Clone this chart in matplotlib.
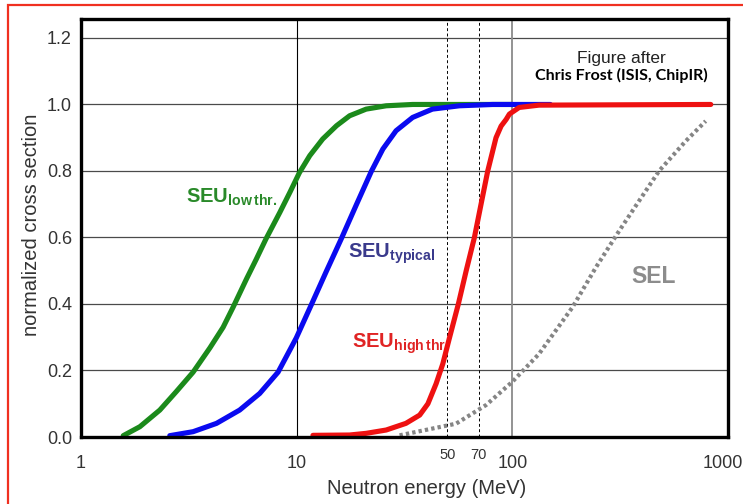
import matplotlib
matplotlib.use("Agg")
import matplotlib.pyplot as plt
import matplotlib.patheffects as pe
from matplotlib.patches import Rectangle
from matplotlib.transforms import ScaledTranslation

plt.rcParams["font.family"] = ["Liberation Sans", "DejaVu Sans"]
plt.rcParams["mathtext.fontset"] = "custom"
plt.rcParams["mathtext.rm"] = "Liberation Sans"
plt.rcParams["mathtext.bf"] = "Liberation Sans:bold"

# normalized cross sections vs neutron energy (MeV)
low_e = [1.57, 1.875, 2.32, 2.77, 3.31, 3.96, 4.56, 5.07, 5.85, 6.50, 7.21, 8.35,
         9.29, 10.3, 11.5, 13.2, 15.3, 17.6, 21.0, 26.0, 34.5, 100]
low_y = [0.004, 0.031, 0.081, 0.137, 0.195, 0.268, 0.33, 0.39, 0.475, 0.535,
         0.596, 0.675, 0.735, 0.795, 0.846, 0.896, 0.936, 0.966, 0.986, 0.996,
         1.0, 1.0]

typ_e = [2.58, 3.31, 4.25, 5.44, 6.74, 8.2, 9.96, 11.7, 13.7, 16.1, 18.9, 22.2,
         25.1, 28.9, 34.5, 42.6, 56.8, 81.0, 150]
typ_y = [0.004, 0.016, 0.041, 0.081, 0.131, 0.195, 0.298, 0.398, 0.497, 0.596,
         0.698, 0.799, 0.866, 0.921, 0.961, 0.986, 0.996, 1.0, 1.0]

high_e = [11.9, 17.6, 21.0, 26.0, 32.1, 37.2, 40.6, 44.3, 47.6, 51.1, 56.2,
          61.1, 66.7, 71.6, 76.9, 84.0, 88.7, 93.6, 96.9, 107.6, 133, 832]
high_y = [0.005, 0.006, 0.011, 0.021, 0.041, 0.066, 0.1, 0.16, 0.22, 0.298, 0.4,
          0.5, 0.6, 0.7, 0.8, 0.9, 0.935, 0.955, 0.971, 0.991, 0.998, 1.0]

sel_e = [30.0, 54.8, 75.5, 100, 133, 190, 244, 313, 387, 479, 637, 788]
sel_y = [0.005, 0.04, 0.096, 0.166, 0.25, 0.39, 0.51, 0.62, 0.71, 0.80, 0.89, 0.95]

x_ticks = [1, 10, 100, 1000]
x_labels = ["1", "10", "100", "1000"]
marked_e = [50, 70]
marked_labels = ["50", "70"]
y_ticks = [0.0, 0.2, 0.4, 0.6, 0.8, 1.0, 1.2]

fig = plt.figure(figsize=(7.43, 5.04), dpi=100)
ax = fig.add_axes([81 / 743, 1 - 437 / 504, 647 / 743, 418 / 504])
ax.set_xscale("log")
ax.set_xlim(1, 1000)
ax.set_ylim(0, 1.257)

# grid
for y in y_ticks[1:]:
    ax.axhline(y, color="#4a4a4a", lw=0.9, zorder=1)
ax.axvline(10, color="black", lw=0.8, zorder=1)
ax.axvline(100, color="#8a8a8a", lw=1.3, zorder=1)
for e in marked_e:
    ax.axvline(e, color="black", lw=0.7, ls=(0, (3, 2.5)), zorder=1)

# curves
ax.plot(sel_e, sel_y, color="#858585", lw=3.0, ls=(0, (0.8, 0.75)),
        dash_capstyle="butt", zorder=2)
ax.plot(low_e, low_y, color="#1b8a1b", lw=3.7, solid_capstyle="round",
        solid_joinstyle="round", zorder=3)
ax.plot(typ_e, typ_y, color="#0a0af0", lw=3.7, solid_capstyle="round",
        solid_joinstyle="round", zorder=4)
ax.plot(high_e, high_y, color="#ee1111", lw=3.7, solid_capstyle="round",
        solid_joinstyle="round", zorder=5)

# labels on the curves
ax.text(3.07, 0.704, r"$\mathbf{SEU}_{\mathbf{low\,thr.}}$", color="#2a8a2a",
        fontsize=14.5, ha="left", va="baseline")
ax.text(17.3, 0.538, r"$\mathbf{SEU}_{\mathbf{typical}}$", color="#3a3a8c",
        fontsize=14.5, ha="left", va="baseline")
ax.text(18.0, 0.268, r"$\mathbf{SEU}_{\mathbf{high\,thr.}}$", color="#e02424",
        fontsize=14.5, ha="left", va="baseline")
ax.text(355, 0.463, "SEL", color="#8c8c8c", fontsize=16.5, fontweight="bold",
        ha="left", va="baseline")

ax.text(322, 1.125, "Figure after", color="#222222", fontsize=12.5,
        ha="center", va="baseline")
ax.text(322, 1.074, "Chris Frost (ISIS, ChipIR)", color="black", fontsize=11.5,
        fontweight="bold", family=["Lato", "DejaVu Sans"],
        ha="center", va="baseline")

# ticks
ax.set_xticks(x_ticks, x_labels)
ax.set_xticks(marked_e, marked_labels, minor=True)
ax.set_yticks(y_ticks, [f"{v:.1f}" for v in y_ticks])
ax.tick_params(which="major", axis="x", length=0, pad=13, labelsize=13,
               labelcolor="#333333")
ax.tick_params(which="minor", axis="x", length=0, pad=8, labelsize=10.5,
               labelcolor="#333333")
ax.tick_params(axis="y", length=0, pad=6.5, labelsize=13, labelcolor="#333333")

# keep "1000" inside the figure edge
last = ax.get_xticklabels()[-1]
last.set_transform(last.get_transform()
                   + ScaledTranslation(-4 / 72, 0, fig.dpi_scale_trans))

for s in ax.spines.values():
    s.set_linewidth(2.4)
    s.set_color("black")
    s.set_zorder(10)
ax.patch.set_path_effects([pe.SimplePatchShadow(offset=(1.5, -1.5),
                                                shadow_rgbFace="0.6", alpha=0.9),
                           pe.Normal()])

fig.text(427 / 743, 1 - 489 / 504, "Neutron energy (MeV)", fontsize=14.5,
         color="#333333", ha="center", va="center")
fig.text(32 / 743, 1 - 225 / 504, "normalized cross section", fontsize=14.5,
         color="#333333", rotation=90, ha="center", va="center")

# red slide frame
fig.patches.append(Rectangle((8 / 743, -0.1), 1.2, 1.1 - 5 / 504,
                             transform=fig.transFigure, fill=False,
                             edgecolor="#f03020", lw=1.6))

fig.savefig("out.png", dpi=100)
